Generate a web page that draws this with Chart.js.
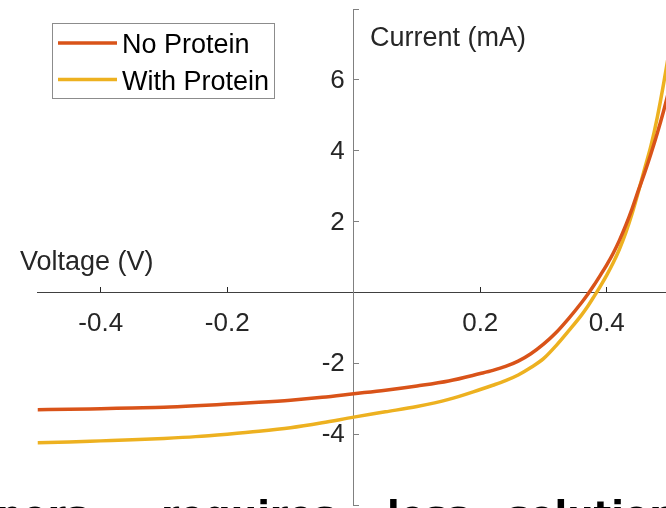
<!DOCTYPE html>
<html>
<head>
<meta charset="utf-8">
<script src="https://cdn.jsdelivr.net/npm/chart.js@4.4.1/dist/chart.umd.min.js"></script>
<style>
  html, body { margin: 0; padding: 0; background: #fff; overflow: hidden; }
  #wrap { position: relative; width: 672px; height: 508px; }
  #ivChart { position: absolute; left: 0; top: 0; }
  #slide { position: absolute; left: 0; top: 0; width: 672px; height: 508px; overflow: hidden; font: bold 37px "DejaVu Sans", sans-serif; color: #000; white-space: nowrap; line-height: 40px; }
  #slide span { position: absolute; top: 496px; }
</style>
</head>
<body>
<div id="wrap">
  <canvas id="ivChart" width="672" height="508"></canvas>
  <div id="slide"><span style="left:-4px">ners -</span><span style="left:161px">requires</span><span style="left:387px">less</span><span style="left:507px">solution</span></div>
</div>
<script>
  // IV sweep, voltage in V, current in mA
  const voltage = [-0.5, -0.45, -0.4, -0.35, -0.3, -0.25, -0.2, -0.15, -0.1, -0.05, 0, 0.05, 0.1, 0.15, 0.2, 0.22, 0.24, 0.26, 0.28, 0.3, 0.32, 0.34, 0.36, 0.37, 0.38, 0.39, 0.4, 0.41, 0.42, 0.43, 0.44, 0.45, 0.46, 0.47, 0.48, 0.49, 0.5];
  const noProtein = [-3.31, -3.30, -3.28, -3.26, -3.24, -3.20, -3.15, -3.10, -3.04, -2.96, -2.86, -2.76, -2.64, -2.50, -2.29, -2.20, -2.09, -1.94, -1.73, -1.46, -1.13, -0.73, -0.29, -0.05, 0.21, 0.49, 0.78, 1.10, 1.47, 1.89, 2.36, 2.88, 3.38, 3.92, 4.50, 5.13, 5.82];
  const withProtein = [-4.24, -4.22, -4.19, -4.16, -4.12, -4.07, -4.00, -3.92, -3.82, -3.68, -3.52, -3.37, -3.22, -3.02, -2.74, -2.62, -2.49, -2.33, -2.12, -1.87, -1.50, -1.08, -0.64, -0.39, -0.11, 0.18, 0.49, 0.83, 1.22, 1.68, 2.22, 2.84, 3.50, 4.15, 4.95, 5.90, 6.95];

  const xTicks = [-0.4, -0.2, 0, 0.2, 0.4];
  const xTickLabels = ["-0.4", "-0.2", "", "0.2", "0.4"];
  const yTicks = [-6, -4, -2, 0, 2, 4, 6, 8];
  const yTickLabels = ["", "-4", "-2", "", "2", "4", "6", ""];

  const textColor = "#262626";
  const fontFamily = '"Liberation Sans", Arial, sans-serif';
  const tickFont = { family: fontFamily, size: 26 };

  const toPoints = (ys) => voltage.map((v, i) => ({ x: v, y: ys[i] }));

  // centred axes should not reserve space for their labels
  const noPadding = (s) => {
    s.paddingTop = 0;
    s.paddingBottom = 0;
    s.paddingLeft = 0;
    s.paddingRight = 0;
  };

  const overlayText = {
    id: "overlayText",
    afterDraw(chart) {
      const ctx = chart.ctx;
      const { x, y } = chart.scales;
      ctx.save();
      ctx.textBaseline = "middle";
      ctx.fillStyle = textColor;

      // y tick labels sit a little left of the y axis
      ctx.font = `26px ${fontFamily}`;
      ctx.textAlign = "right";
      const axisX = x.getPixelForValue(0);
      yTicks.forEach((v, i) => {
        if (yTickLabels[i]) ctx.fillText(yTickLabels[i], axisX - 9, y.getPixelForValue(v) + 1);
      });

      ctx.textAlign = "left";
      ctx.font = `27px ${fontFamily}`;
      ctx.fillText("Current (mA)", 370, 39);
      ctx.fillText("Voltage (V)", 20, 263);

      // legend box, top left
      ctx.fillStyle = "#fff";
      ctx.fillRect(52.5, 23.5, 222, 75);
      ctx.strokeStyle = "#8c8c8c";
      ctx.lineWidth = 1;
      ctx.strokeRect(52.5, 23.5, 222, 75);
      chart.data.datasets.forEach((ds, i) => {
        const ly = 43 + i * 36.5;
        ctx.strokeStyle = ds.borderColor;
        ctx.lineWidth = 3.5;
        ctx.beginPath();
        ctx.moveTo(58, ly);
        ctx.lineTo(117, ly);
        ctx.stroke();
        ctx.fillStyle = "#000";
        ctx.fillText(ds.label, 122, ly + 3);
      });
      ctx.restore();
    },
  };

  new Chart(document.getElementById("ivChart").getContext("2d"), {
    type: "line",
    data: {
      datasets: [
        {
          label: "No Protein",
          data: toPoints(noProtein),
          borderColor: "#D95319",
          borderWidth: 3.5,
          pointRadius: 0,
          cubicInterpolationMode: "monotone",
          fill: false,
        },
        {
          label: "With Protein",
          data: toPoints(withProtein),
          borderColor: "#EDB120",
          borderWidth: 3.5,
          pointRadius: 0,
          cubicInterpolationMode: "monotone",
          fill: false,
        },
      ],
    },
    options: {
      responsive: false,
      animation: false,
      layout: { padding: { left: 37.5, right: 2, top: 9, bottom: 3 } },
      plugins: { legend: { display: false }, tooltip: { enabled: false } },
      scales: {
        x: {
          type: "linear",
          min: -0.5,
          max: 0.5,
          position: { y: 0 },
          afterBuildTicks: (s) => { s.ticks = xTicks.map((v) => ({ value: v })); },
          afterFit: noPadding,
          ticks: {
            autoSkip: false,
            maxRotation: 0,
            padding: 22,
            color: textColor,
            font: tickFont,
            callback: (v) => xTickLabels[xTicks.indexOf(v)],
          },
          grid: { drawOnChartArea: false, drawTicks: true, tickLength: -6, color: textColor },
          border: { color: "#404040", width: 1 },
        },
        y: {
          type: "linear",
          min: -6,
          max: 8,
          position: { x: 0 },
          afterBuildTicks: (s) => { s.ticks = yTicks.map((v) => ({ value: v })); },
          afterFit: noPadding,
          ticks: { display: false },
          grid: { drawOnChartArea: false, drawTicks: true, tickLength: -6, color: "#808080" },
          border: { color: "#808080", width: 1 },
        },
      },
    },
    plugins: [overlayText],
  });
</script>
</body>
</html>
